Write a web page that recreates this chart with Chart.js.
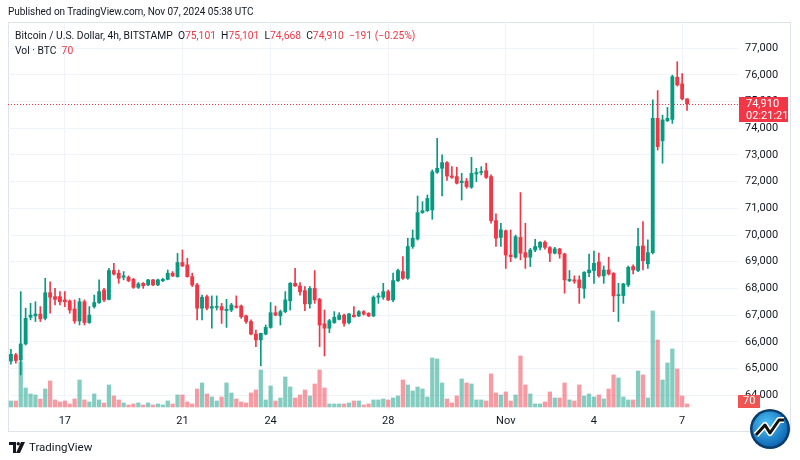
<!DOCTYPE html>
<html>
<head>
<meta charset="utf-8">
<script src="https://cdn.jsdelivr.net/npm/chart.js@4.4.1/dist/chart.umd.min.js"></script>
<style>
    body { margin: 0; background: #fff; font-family: Roboto, "DejaVu Sans", sans-serif; color: #131722; }
    #wrap { position: relative; width: 800px; height: 460px; overflow: hidden; }
    #chart { position: absolute; left: 0; top: 0; }
    .line { position: absolute; background: #e0e3eb; }
    .pub { position: absolute; left: 8px; top: 6px; font-size: 10px; letter-spacing: -0.05px; }
    .legend { position: absolute; left: 15px; top: 28px; font-size: 10.3px; line-height: 15px; z-index: 2; white-space: pre; }
    .red { color: #f23645; }
    .brand { position: absolute; left: 9px; top: 440px; font-size: 11.5px; display: flex; align-items: center; gap: 4px; }
    .badge { position: absolute; left: 749px; top: 408px; }
</style>
</head>
<body>
<div id="wrap">
    <div class="line" style="left:8px;top:22px;width:782px;height:1px"></div>
    <div class="line" style="left:8px;top:22px;width:1px;height:410px"></div>
    <div class="line" style="left:790px;top:22px;width:1px;height:410px"></div>
    <div class="line" style="left:8px;top:431px;width:782px;height:1px"></div>
    <canvas id="chart" width="800" height="460"></canvas>
    <div class="pub">Published on TradingView.com, Nov 07, 2024 05:38 UTC</div>
    <div class="legend" id="legend"></div>
    <div class="brand">
        <svg width="16" height="11" viewBox="0 0 16 11">
            <path d="M0 0h7v11H4V3H0z" fill="#131722"/>
            <circle cx="9.3" cy="1.7" r="1.7" fill="#131722"/>
            <path d="M12 0h4l-5 11H7z" fill="#131722"/>
        </svg>
        <span>TradingView</span>
    </div>
    <svg class="badge" width="42" height="42" viewBox="0 0 42 42">
        <defs>
            <radialGradient id="bg" cx="40%" cy="35%" r="70%">
                <stop offset="0" stop-color="#4fc3f7"/>
                <stop offset="1" stop-color="#0b63b0"/>
            </radialGradient>
        </defs>
        <circle cx="21" cy="21" r="20" fill="#0a3d6b"/>
        <circle cx="21" cy="21" r="17.5" fill="url(#bg)"/>
        <path d="M7 27 L16 17 L21 25 L30 12 L35 12" fill="none" stroke="#fff" stroke-width="6" stroke-linejoin="round"/>
        <path d="M7 27 L16 17 L21 25 L30 12 L35 12" fill="none" stroke="#111" stroke-width="3" stroke-linejoin="round"/>
    </svg>
</div>
<script>
// BTCUSD 4h candles, Bitstamp, first bar Oct 15 2024 04:00 UTC
const firstBar = Date.UTC(2024, 9, 15, 4);
const barHours = 4;

const opens = [
    65280, 65510, 65320, 65920, 66920, 66970, 67040, 66880, 67840, 67690,
    67690, 67570, 67530, 67230, 66780, 67500, 66720, 67320, 67470, 67940,
    67590, 68670, 68570, 68420, 68420, 68340, 68040, 68190, 68130, 68320,
    68130, 68290, 68340, 68570, 68440, 68970, 68880, 68440, 68130, 67260,
    67690, 67260, 67290, 67320, 67170, 67190, 67340, 67340, 66970, 66760,
    66290, 66070, 66290, 66540, 67090, 66970, 67130, 67540, 68190, 68090,
    67920, 67420, 68000, 67590, 66670, 66510, 66720, 66840, 67000, 66720,
    67000, 66970, 67130, 67070, 66970, 67670, 67670, 67880, 67570, 68290,
    68630, 68380, 69570, 69850, 70840, 70910, 70940, 72350, 72500, 72710,
    72210, 72190, 71960, 72020, 71790, 72290, 72340, 72410, 72190, 70540,
    69910, 70160, 69250, 69170, 69910, 69340, 69170, 69440, 69540, 69730,
    69530, 69320, 69480, 69290, 68290, 68320, 68320, 68000, 68590, 68670,
    68990, 68470, 68690, 68570, 67730, 67730, 68130, 68820, 68670, 69590,
    68920, 69340, 74370, 73530, 74280, 74330, 75910, 75660, 75101
];
const highs = [
    65720, 65570, 67880, 67260, 67440, 67500, 67320, 68380, 68250, 68000,
    67880, 67880, 67570, 67570, 67630, 67570, 67320, 67750, 68320, 68000,
    68750, 68940, 68690, 68630, 68470, 68380, 68220, 68220, 68340, 68340,
    68350, 68380, 68690, 68630, 69310, 69440, 69130, 68570, 68190, 67750,
    67750, 67720, 67720, 67440, 67590, 67440, 67720, 67380, 67000, 66820,
    66440, 66320, 66630, 67470, 67340, 67190, 67880, 68220, 68750, 68220,
    68070, 68070, 68670, 67630, 67190, 66840, 67130, 67090, 67040, 67070,
    67320, 67170, 67170, 67090, 67720, 67820, 68190, 67940, 68570, 68720,
    69190, 69880, 70190, 71460, 71250, 71500, 72440, 73620, 73000, 72750,
    72560, 72540, 72310, 72120, 72910, 72500, 72560, 72690, 72250, 70790,
    70440, 70190, 70190, 70000, 71590, 70440, 69500, 69840, 69750, 69780,
    69570, 69540, 69500, 69320, 68670, 68470, 68470, 68630, 69290, 69400,
    69320, 68840, 69170, 68590, 68190, 68190, 68840, 68880, 70250, 70500,
    69820, 75060, 75410, 74490, 74780, 75990, 76490, 76050, 75101
];
const lows = [
    65160, 65200, 64760, 65880, 66820, 66760, 66760, 66820, 67070, 67380,
    67380, 67320, 67070, 66690, 66630, 66630, 66690, 67260, 67440, 67500,
    67570, 68500, 68190, 68320, 68250, 68000, 68000, 68000, 68100, 68100,
    68100, 68250, 68320, 68440, 68420, 68820, 68420, 68070, 66820, 66820,
    67190, 66510, 67190, 66690, 66540, 67130, 67260, 66880, 66690, 66260,
    65820, 65100, 66260, 66510, 66970, 66630, 67090, 67190, 68070, 67750,
    67170, 67260, 67440, 65820, 65470, 66340, 66690, 66820, 66590, 66670,
    66920, 66940, 67000, 66940, 66940, 67440, 67590, 67540, 67500, 68250,
    68340, 68340, 69500, 69810, 70810, 70880, 70590, 72310, 71460, 72040,
    72120, 71910, 71310, 71750, 71750, 72000, 72250, 72120, 70440, 69570,
    69570, 68750, 69000, 69130, 69070, 68750, 68820, 69380, 69440, 69470,
    69000, 69290, 69130, 67820, 68250, 68190, 67440, 67630, 68440, 68190,
    68420, 68190, 68500, 67130, 66760, 67440, 68070, 68540, 68630, 68690,
    68750, 69290, 73180, 72690, 74250, 74180, 75580, 75060, 74668
];
const closes = [
    65530, 65300, 65920, 66880, 67000, 67040, 66860, 67840, 67670, 67590,
    67500, 67500, 67190, 66780, 67500, 66720, 67000, 67470, 67880, 67570,
    68670, 68540, 68380, 68470, 68290, 68040, 68170, 68100, 68320, 68130,
    68320, 68340, 68570, 68470, 68970, 68840, 68440, 68130, 67260, 67670,
    67260, 67320, 67320, 67190, 67220, 67380, 67290, 66940, 66760, 66290,
    66070, 66320, 66540, 67090, 67000, 67130, 67570, 68190, 68090, 67880,
    67420, 68000, 67570, 66630, 66510, 66790, 66920, 67000, 66690, 67040,
    66940, 67130, 67040, 66970, 67670, 67720, 67880, 67570, 68290, 68670,
    68380, 69570, 69880, 70840, 70910, 71370, 72370, 72500, 72710, 72210,
    72160, 71940, 72020, 71810, 72310, 72340, 72370, 72160, 70540, 69880,
    70190, 69250, 69190, 69940, 69320, 69170, 69440, 69570, 69730, 69540,
    69320, 69480, 69290, 68320, 68340, 68270, 68030, 68600, 68690, 68940,
    68470, 68690, 68540, 67720, 67760, 68170, 68790, 68690, 69570, 69040,
    69340, 74370, 73310, 74310, 74370, 75930, 75620, 75101, 74910
];
const volumes = [
    138, 138, 1035, 437, 299, 276, 184, 414, 598, 161,
    115, 138, 69, 184, 621, 161, 115, 299, 161, 92,
    506, 253, 161, 92, 46, 69, 92, 46, 92, 46,
    69, 46, 138, 69, 276, 276, 115, 69, 414, 552,
    299, 230, 138, 230, 552, 322, 184, 115, 92, 322,
    391, 851, 161, 483, 138, 207, 690, 460, 207, 276,
    391, 253, 529, 851, 437, 69, 69, 69, 69, 92,
    138, 138, 46, 69, 161, 161, 184, 161, 207, 253,
    621, 506, 368, 460, 414, 230, 1127, 1104, 552, 184,
    92, 253, 644, 552, 529, 161, 161, 138, 759, 322,
    276, 345, 138, 276, 1173, 506, 299, 69, 69, 115,
    345, 207, 207, 552, 161, 138, 506, 253, 299, 230,
    276, 184, 414, 736, 667, 230, 161, 161, 828, 736,
    207, 2208, 1541, 621, 1012, 1334, 874, 253, 70
];

const tickDates = ['2024-10-17', '2024-10-21', '2024-10-24', '2024-10-28', '2024-11-01', '2024-11-04', '2024-11-07'];
const tickLabels = ['17', '21', '24', '28', 'Nov', '4', '7'];
const priceStep = 1000;
const countdown = '02:21:21';

const UP = '#089981';
const DOWN = '#f23645';
const UP_VOL = 'rgba(8,153,129,0.5)';
const DOWN_VOL = 'rgba(242,54,69,0.5)';
const GRID = '#f0f3fa';
const TEXT = '#131722';

const fmt = v => v.toLocaleString('en-US');
const tickIndex = tickDates.map(d => (Date.parse(d + 'T00:00:00Z') - firstBar) / (barHours * 3600e3));
const isUp = opens.map((o, i) => closes[i] >= o);

// legend from the last bar
const last = closes.length - 1;
const change = closes[last] - closes[last - 1];
const pct = (change / closes[last - 1] * 100).toFixed(2);
const signed = v => (v < 0 ? '\u2212' : '+') + Math.abs(v);
document.getElementById('legend').innerHTML =
    'Bitcoin / U.S. Dollar, 4h, BITSTAMP  ' +
    'O<span class="red">' + fmt(opens[last]) + '</span>  ' +
    'H<span class="red">' + fmt(highs[last]) + '</span>  ' +
    'L<span class="red">' + fmt(lows[last]) + '</span>  ' +
    'C<span class="red">' + fmt(closes[last]) + '  ' + signed(change) + ' (' + signed(pct) + '%)</span>\n' +
    'Vol \u00b7 BTC  <span class="red">' + volumes[last] + '</span>';

const lastPriceTag = {
    id: 'lastPriceTag',
    beforeDatasetsDraw(chart) {
        const {ctx, chartArea, scales} = chart;
        const y = Math.round(scales.y.getPixelForValue(closes[last])) + 0.5;
        ctx.save();
        ctx.strokeStyle = isUp[last] ? UP : DOWN;
        ctx.lineWidth = 1;
        ctx.setLineDash([1, 2]);
        ctx.beginPath();
        ctx.moveTo(chartArea.left, y);
        ctx.lineTo(chartArea.right, y);
        ctx.stroke();
        ctx.restore();
    },
    afterDraw(chart) {
        const {ctx, chartArea, scales} = chart;
        const x = chartArea.right + 1;
        const y = Math.round(scales.y.getPixelForValue(closes[last]));
        ctx.save();
        ctx.fillStyle = isUp[last] ? UP : DOWN;
        ctx.fillRect(x, y - 7, 49, 25);
        ctx.fillStyle = '#fff';
        ctx.font = '11px Roboto, "DejaVu Sans", sans-serif';
        ctx.textBaseline = 'middle';
        ctx.fillText(fmt(closes[last]), x + 7, y);
        ctx.fillText(countdown, x + 7, y + 12);

        const vy = Math.min(scales.yv.getPixelForValue(volumes[last]), chartArea.bottom - 9);
        ctx.fillStyle = '#f05350';
        ctx.fillRect(chartArea.right, vy - 6, 22, 13);
        ctx.fillStyle = '#fff';
        ctx.fillText(String(volumes[last]), chartArea.right + 5, vy + 0.5);
        ctx.restore();
    }
};

Chart.defaults.font.family = 'Roboto, "DejaVu Sans", sans-serif';
Chart.defaults.font.size = 11;

new Chart(document.getElementById('chart'), {
    type: 'bar',
    data: {
        datasets: [
            {
                data: closes.map((c, i) => ({x: i, y: [opens[i], c]})),
                backgroundColor: isUp.map(u => (u ? UP : DOWN)),
                barThickness: 3.2,
                minBarLength: 1,
                grouped: false,
                order: 1
            },
            {
                data: lows.map((l, i) => ({x: i, y: [l, highs[i]]})),
                backgroundColor: isUp.map(u => (u ? UP : DOWN)),
                barThickness: 1,
                grouped: false,
                order: 2
            },
            {
                data: volumes.map((v, i) => ({x: i, y: v})),
                backgroundColor: isUp.map(u => (u ? UP_VOL : DOWN_VOL)),
                barThickness: 3.6,
                grouped: false,
                yAxisID: 'yv',
                order: 3
            }
        ]
    },
    options: {
        responsive: false,
        animation: false,
        events: [],
        layout: {padding: {top: 22, left: 8, right: 0, bottom: 28}},
        plugins: {legend: {display: false}, tooltip: {enabled: false}},
        scales: {
            x: {
                type: 'linear',
                min: -0.6,
                max: 148.4,
                offset: false,
                grid: {color: GRID, drawTicks: false, offset: false},
                border: {display: false},
                afterBuildTicks: s => { s.ticks = tickIndex.map(v => ({value: v})); },
                afterFit: s => { s.height = 22; },
                ticks: {
                    autoSkip: false,
                    maxRotation: 0,
                    padding: 5,
                    color: TEXT,
                    callback: (v, i) => tickLabels[i]
                }
            },
            y: {
                position: 'right',
                min: 63446,
                max: 77978,
                grid: {color: GRID, drawTicks: false},
                border: {display: false},
                afterFit: s => { s.width = 62; },
                afterBuildTicks: s => {
                    const ticks = [];
                    for (let v = Math.ceil(s.min / priceStep) * priceStep; v <= s.max; v += priceStep) {
                        ticks.push({value: v});
                    }
                    s.ticks = ticks;
                },
                ticks: {
                    autoSkip: false,
                    padding: 7,
                    color: TEXT,
                    callback: v => fmt(v)
                }
            },
            yv: {
                display: false,
                min: -70,
                max: 8855
            }
        }
    },
    plugins: [lastPriceTag]
});
</script>
</body>
</html>
